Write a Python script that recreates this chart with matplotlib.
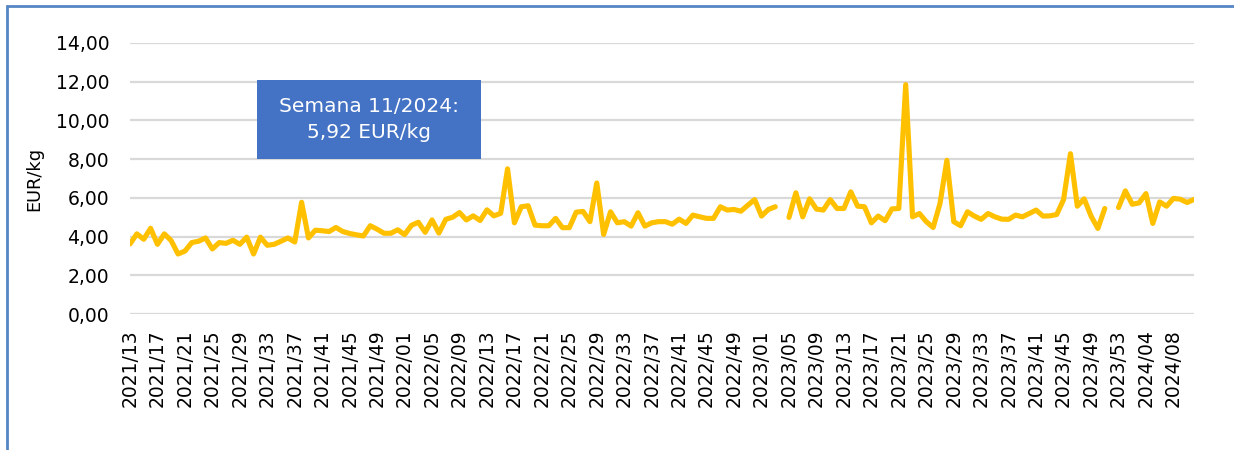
import numpy as np
import matplotlib
matplotlib.use("Agg")
import matplotlib.pyplot as plt
import matplotlib.ticker
from matplotlib.patches import Rectangle

# Weekly price, EUR/kg, from week 2021/13 to week 2024/11 (nan = no quote).
price_2021 = [
    3.62, 4.14, 3.86, 4.43, 3.60, 4.14, 3.79, 3.10, 3.25, 3.69,
    3.76, 3.93, 3.36, 3.69, 3.65, 3.81, 3.60, 3.97, 3.10, 3.97,
    3.55, 3.60, 3.76, 3.93, 3.72, 5.77, 3.93, 4.33, 4.30, 4.26,
    4.47, 4.26, 4.16, 4.09, 4.03, 4.56, 4.38, 4.17, 4.17, 4.35,
]
price_2022 = [
    4.10, 4.58, 4.74, 4.22, 4.86, 4.18, 4.89, 5.00, 5.24, 4.86,
    5.07, 4.83, 5.38, 5.07, 5.20, 7.50, 4.71, 5.54, 5.59, 4.59,
    4.56, 4.56, 4.94, 4.46, 4.46, 5.26, 5.30, 4.77, 6.77, 4.11,
    5.28, 4.71, 4.77, 4.54, 5.23, 4.54, 4.71, 4.77, 4.77, 4.64,
    4.90, 4.68, 5.11, 5.02, 4.94, 4.94, 5.54, 5.37, 5.40, 5.31,
    5.62, 5.91,
]
price_2023 = [
    5.06, 5.40, 5.54, np.nan, 4.99, 6.26, 5.02, 5.95, 5.42, 5.37,
    5.91, 5.45, 5.45, 6.31, 5.57, 5.54, 4.71, 5.06, 4.82, 5.43,
    5.45, 11.85, 5.02, 5.19, 4.77, 4.47, 5.71, 7.94, 4.77, 4.56,
    5.28, 5.06, 4.89, 5.19, 5.02, 4.90, 4.89, 5.11, 5.02, 5.19,
    5.37, 5.06, 5.07, 5.14, 5.91, 8.28, 5.57, 5.95, 5.06, 4.42,
    5.45, np.nan, 5.50,
]
price_2024 = [6.36, 5.67, 5.74, 6.22, 4.68, 5.79, 5.57, 5.97, 5.93, 5.76, 5.92]

# One label every fourth week.
week_labels = [
    "2021/13", "2021/17", "2021/21", "2021/25", "2021/29", "2021/33",
    "2021/37", "2021/41", "2021/45", "2021/49",
    "2022/01", "2022/05", "2022/09", "2022/13", "2022/17", "2022/21",
    "2022/25", "2022/29", "2022/33", "2022/37", "2022/41", "2022/45",
    "2022/49",
    "2023/01", "2023/05", "2023/09", "2023/13", "2023/17", "2023/21",
    "2023/25", "2023/29", "2023/33", "2023/37", "2023/41", "2023/45",
    "2023/49", "2023/53",
    "2024/04", "2024/08",
]
last_week = "11/2024"

prices = np.array(price_2021 + price_2022 + price_2023 + price_2024)
x = np.arange(len(prices))


def comma_fmt(value, pos=None):
    return f"{value:.2f}".replace(".", ",")


plt.rcParams["font.family"] = "DejaVu Sans"
fig = plt.figure(figsize=(12.34, 4.5), dpi=100)
ax = fig.add_axes([130 / 1234, 136 / 450, 1064 / 1234, 271 / 450])

# Price line.
ax.plot(x, prices, color="#FFC000", linewidth=3.7,
        solid_joinstyle="round", solid_capstyle="round", zorder=3)

# Axes.
ax.set_xlim(0, len(prices) - 1)
ax.set_ylim(0, 14)
ax.yaxis.set_major_locator(matplotlib.ticker.MultipleLocator(2))
ax.yaxis.set_major_formatter(matplotlib.ticker.FuncFormatter(comma_fmt))
ax.set_xticks(x[::4][:len(week_labels)])
ax.set_xticklabels(week_labels, rotation=90)
ax.tick_params(axis="y", length=0, pad=15, labelsize=13.5, colors="black")
ax.tick_params(axis="x", length=0, pad=11, labelsize=13.5, colors="black")
ax.set_ylabel("EUR/kg", fontsize=12.8, labelpad=9)
for spine in ax.spines.values():
    spine.set_visible(False)
ax.grid(axis="y", color="#D9D9D9", linewidth=1.6)
ax.set_axisbelow(True)

# Label box for the latest week.
ax.add_patch(Rectangle((0.119, 0.572), 0.211, 0.2915, transform=ax.transAxes,
                       facecolor="#4472C4", edgecolor="none", zorder=4))
ax.text(0.2245, 0.7175,
        f"Semana {last_week}:\n{comma_fmt(prices[-1])} EUR/kg",
        transform=ax.transAxes, ha="center", va="center", color="white",
        fontsize=14.5, linespacing=1.45, zorder=5)

# Frame around the chart.
fig.add_artist(Rectangle((7 / 1234, -0.1), 1.2, 444 / 450 + 0.1,
                         transform=fig.transFigure, fill=False,
                         edgecolor="#5585C4", linewidth=2.0))

fig.savefig("out.png", dpi=100)
